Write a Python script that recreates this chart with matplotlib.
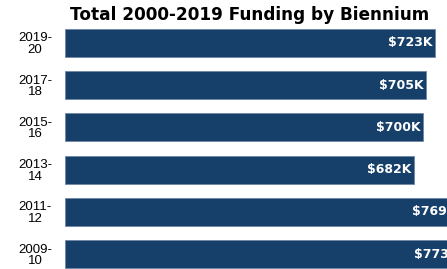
import matplotlib
matplotlib.use('Agg')
import matplotlib.pyplot as plt
from matplotlib import rcParams

rcParams['font.family'] = ['Liberation Sans', 'DejaVu Sans']

# data (bottom to top)
biennia = ['2009-\n10', '2011-\n12', '2013-\n14', '2015-\n16', '2017-\n18', '2019-\n20']
funding = [773, 769, 682, 700, 705, 723]   # $K
labels = ['$773K', '$769K', '$682K', '$700K', '$705K', '$723K']

navy = '#163f69'

fig = plt.figure(figsize=(4.47, 2.69), dpi=100, facecolor='white')
ax = fig.add_axes([0.145, 0.0, 0.855, 0.926])

ys = range(len(funding))
ax.barh(ys, funding, height=0.66, color=navy, edgecolor='#6f86a3', linewidth=0.6)

for y, v, lab in zip(ys, funding, labels):
    ax.text(v - 5, y, lab, ha='right', va='center', color='white',
            fontsize=9, fontweight='bold', family='DejaVu Sans', clip_on=False)

ax.set_xlim(0, 746)
ax.set_ylim(-0.355, 5.545)
ax.set_yticks(list(ys))
ax.set_yticklabels(biennia, fontsize=9.5, ha='center', linespacing=0.95)
ax.tick_params(axis='y', length=0, pad=21.5)
ax.set_xticks([])
for s in ax.spines.values():
    s.set_visible(False)

fig.text(0.558, 0.945, 'Total 2000-2019 Funding by Biennium', ha='center', va='center',
         fontsize=12.2, fontweight='heavy', family='DejaVu Sans', color='black')

fig.savefig('out.png', dpi=100, facecolor='white')
